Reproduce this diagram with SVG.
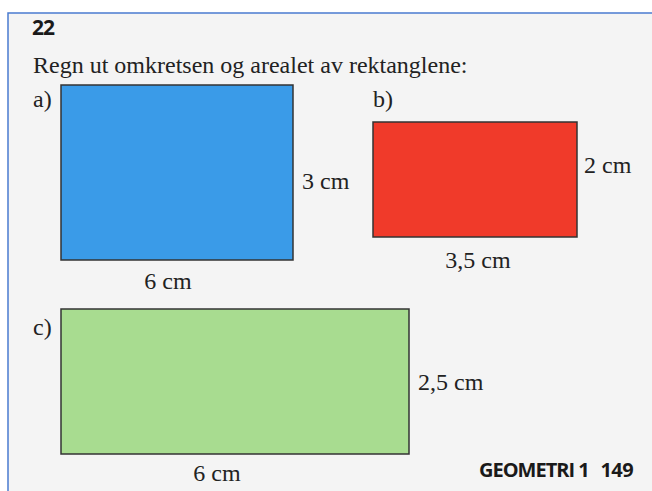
<svg xmlns="http://www.w3.org/2000/svg" width="652" height="491" viewBox="0 0 652 491">
<style>
.t{font-family:"Liberation Serif","Times New Roman",serif;font-size:24px;fill:#222}
.b{font-family:"Open Sans","Liberation Sans",sans-serif;font-weight:bold;fill:#1a1a1a}
.r{stroke:#333;stroke-width:1.5}
</style>
<rect x="0" y="0" width="652" height="491" fill="#f4f4f4"/>
<rect x="0" y="0" width="652" height="13" fill="#ffffff"/>
<rect x="0" y="0" width="8" height="491" fill="#ffffff"/>
<path d="M8,491 V13 H652" fill="none" stroke="#4a7bd0" stroke-width="1.5"/>
<g id="header">
<text class="b" x="32" y="35" font-size="21" letter-spacing="-1">22</text>
<text class="t" x="33" y="73" font-size="25">Regn ut omkretsen og arealet av rektanglene:</text>
</g>
<g id="rect-a">
<text class="t" x="33" y="107">a)</text>
<rect class="r" x="61" y="85" width="232" height="175" fill="#3a9be8"/>
<text class="t" x="302" y="189">3 cm</text>
<text class="t" x="168" y="289" text-anchor="middle">6 cm</text>
</g>
<g id="rect-b">
<text class="t" x="373" y="107">b)</text>
<rect class="r" x="373" y="122" width="204" height="115" fill="#f03a2a"/>
<text class="t" x="584" y="173">2 cm</text>
<text class="t" x="478" y="268" text-anchor="middle">3,5 cm</text>
</g>
<g id="rect-c">
<text class="t" x="33" y="335">c)</text>
<rect class="r" x="61" y="309" width="348" height="145" fill="#a8dc90"/>
<text class="t" x="418" y="390">2,5 cm</text>
<text class="t" x="217" y="481" text-anchor="middle">6 cm</text>
</g>
<g id="footer">
<text class="b" x="479" y="477" font-size="20" letter-spacing="-1">GEOMETRI 1</text>
<text class="b" x="633" y="477" font-size="20" letter-spacing="-0.6" text-anchor="end">149</text>
</g>
<g id="connectors"></g>
</svg>
